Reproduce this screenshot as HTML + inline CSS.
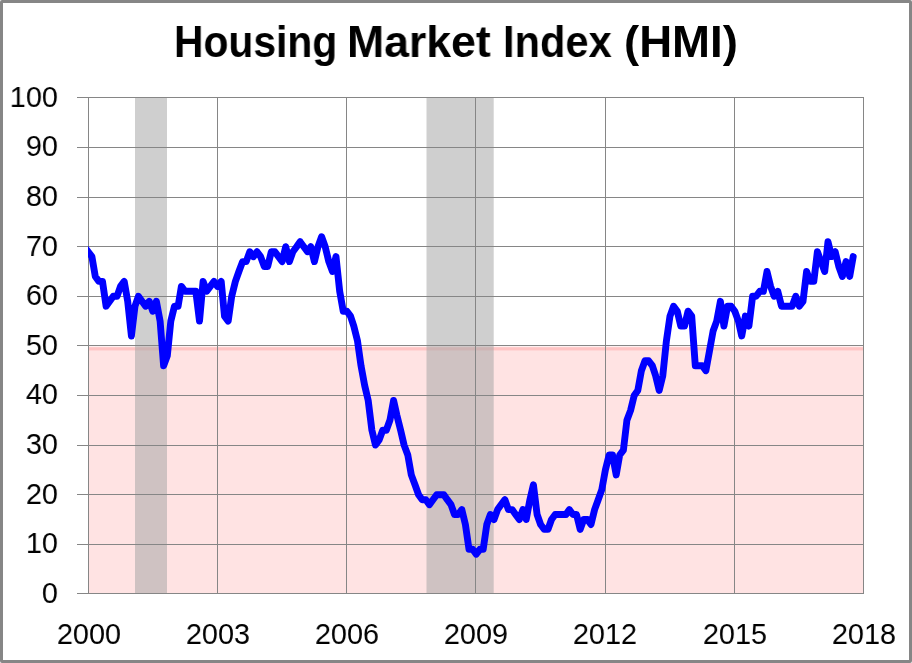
<!DOCTYPE html>
<html><head><meta charset="utf-8"><title>Housing Market Index (HMI)</title>
<style>
html,body{margin:0;padding:0;background:#fff}
body{width:912px;height:663px;position:relative;overflow:hidden;font-family:"Liberation Sans",sans-serif;color:#000}
#frame{position:absolute;left:0;top:0;width:906px;height:657px;border:3px solid #868686;border-radius:2px}
.yl{position:absolute;right:854px;width:80px;will-change:transform;text-align:right;font-size:29px;line-height:30px;height:30px;white-space:nowrap;transform:scaleX(0.995);transform-origin:100% 50%}
.xl{position:absolute;will-change:transform;top:618.9px;width:100px;margin-left:-50px;text-align:center;font-size:29px;line-height:30px;white-space:nowrap;transform:scaleX(0.995)}
.tw{position:absolute;top:19.2px;font-size:45px;font-weight:bold;line-height:46px;will-change:transform;white-space:nowrap;transform-origin:0 0}
</style></head><body>
<div id="frame"></div>
<svg width="912" height="663" viewBox="0 0 912 663" style="position:absolute;left:0;top:0">
<defs><clipPath id="c"><rect x="88" y="97" width="776" height="497"/></clipPath></defs>
<rect x="89" y="346" width="774" height="247" fill="#ffe3e3"/>
<rect x="89" y="346" width="774" height="1" fill="#fff0f0"/>
<rect x="89" y="347" width="774" height="1" fill="#ffcccc"/>
<rect x="89" y="348" width="774" height="2" fill="#ffc4c4"/>
<rect x="89" y="350" width="774" height="1" fill="#ffd6d6"/>
<rect x="135" y="98" width="32" height="495" fill="#a8a8a8" fill-opacity="0.55"/>
<rect x="426.5" y="98" width="67.19999999999999" height="495" fill="#a8a8a8" fill-opacity="0.55"/>
<rect x="77" y="97" width="787" height="1" fill="#868686"/>
<rect x="77" y="147" width="787" height="1" fill="#868686"/>
<rect x="77" y="197" width="787" height="1" fill="#868686"/>
<rect x="77" y="246" width="787" height="1" fill="#868686"/>
<rect x="77" y="296" width="787" height="1" fill="#868686"/>
<rect x="77" y="345" width="787" height="1" fill="#868686"/>
<rect x="77" y="395" width="787" height="1" fill="#868686"/>
<rect x="77" y="445" width="787" height="1" fill="#868686"/>
<rect x="77" y="494" width="787" height="1" fill="#868686"/>
<rect x="77" y="544" width="787" height="1" fill="#868686"/>
<rect x="77" y="593" width="787" height="1" fill="#868686"/>
<rect x="88" y="97" width="1" height="497" fill="#868686"/>
<rect x="217" y="97" width="1" height="497" fill="#868686"/>
<rect x="346" y="97" width="1" height="497" fill="#868686"/>
<rect x="475" y="97" width="1" height="497" fill="#868686"/>
<rect x="605" y="97" width="1" height="497" fill="#868686"/>
<rect x="734" y="97" width="1" height="497" fill="#868686"/>
<rect x="863" y="97" width="1" height="497" fill="#868686"/>
<path d="M84.5,246.7 L88.2,251.7 L91.9,256.6 L95.3,276.5 L98.9,281.4 L102.5,281.4 L106.1,306.2 L109.7,301.3 L113.3,296.3 L117.0,296.3 L120.5,286.4 L124.2,281.4 L127.7,301.3 L131.4,336.0 L135.0,306.2 L138.4,296.3 L142.0,301.3 L145.6,306.2 L149.2,301.3 L152.8,311.2 L156.4,301.3 L160.1,321.1 L163.6,365.7 L167.3,355.8 L170.8,321.1 L174.5,306.2 L178.1,306.2 L181.4,286.4 L185.1,291.3 L188.6,291.3 L192.3,291.3 L195.8,291.3 L199.5,321.1 L203.1,281.4 L206.7,291.3 L210.3,286.4 L213.9,281.4 L217.5,286.4 L221.2,281.4 L224.5,316.1 L228.2,321.1 L231.7,296.3 L235.4,281.4 L238.9,271.5 L242.6,261.6 L246.2,261.6 L249.8,251.7 L253.4,256.6 L257.0,251.7 L260.6,256.6 L264.3,266.5 L267.7,266.5 L271.3,251.7 L274.9,251.7 L278.5,256.6 L282.1,261.6 L285.7,246.7 L289.4,261.6 L292.9,251.7 L296.6,246.7 L300.1,241.7 L303.8,246.7 L307.5,251.7 L310.8,246.7 L314.4,261.6 L318.0,246.7 L321.6,236.8 L325.2,246.7 L328.8,261.6 L332.5,271.5 L336.0,256.6 L339.7,291.3 L343.2,311.2 L346.9,311.2 L350.5,316.1 L353.8,326.1 L357.5,340.9 L361.0,365.7 L364.7,385.6 L368.2,400.5 L371.9,430.2 L375.5,445.1 L379.1,440.1 L382.7,430.2 L386.3,430.2 L389.9,420.3 L393.6,400.5 L396.9,415.3 L400.6,430.2 L404.1,445.1 L407.8,455.0 L411.3,474.9 L415.0,484.8 L418.6,494.7 L422.2,499.7 L425.8,499.7 L429.4,504.6 L433.0,499.7 L436.7,494.7 L440.1,494.7 L443.8,494.7 L447.3,499.7 L451.0,504.6 L454.5,514.5 L458.2,514.5 L461.8,509.6 L465.4,524.5 L469.0,549.3 L472.6,549.3 L476.2,554.2 L479.9,549.3 L483.2,549.3 L486.8,524.5 L490.4,514.5 L494.0,519.5 L497.6,509.6 L501.2,504.6 L504.9,499.7 L508.4,509.6 L512.1,509.6 L515.6,514.5 L519.3,519.5 L522.9,509.6 L526.2,519.5 L529.9,499.7 L533.4,484.8 L537.1,514.5 L540.6,524.5 L544.3,529.4 L548.0,529.4 L551.5,519.5 L555.2,514.5 L558.7,514.5 L562.4,514.5 L566.0,514.5 L569.3,509.6 L573.0,514.5 L576.5,514.5 L580.2,529.4 L583.7,519.5 L587.4,519.5 L591.0,524.5 L594.6,509.6 L598.2,499.7 L601.8,489.7 L605.4,469.9 L609.1,455.0 L612.5,455.0 L616.2,474.9 L619.7,455.0 L623.4,450.1 L626.9,420.3 L630.6,410.4 L634.2,395.5 L637.8,390.5 L641.4,370.7 L645.0,360.8 L648.6,360.8 L652.3,365.7 L655.6,375.7 L659.2,390.5 L662.8,375.7 L666.4,340.9 L670.0,316.1 L673.6,306.2 L677.3,311.2 L680.8,326.1 L684.5,326.1 L688.0,311.2 L691.7,316.1 L695.3,365.7 L698.7,365.7 L702.3,365.7 L705.9,370.7 L709.5,350.9 L713.1,331.0 L716.7,321.1 L720.4,301.3 L723.9,326.1 L727.6,306.2 L731.1,306.2 L734.8,311.2 L738.4,321.1 L741.7,336.0 L745.4,316.1 L748.9,326.1 L752.6,296.3 L756.1,296.3 L759.8,291.3 L763.4,291.3 L767.0,271.5 L770.6,286.4 L774.2,296.3 L777.8,291.3 L781.5,306.2 L784.9,306.2 L788.6,306.2 L792.1,306.2 L795.8,296.3 L799.3,306.2 L803.0,301.3 L806.6,271.5 L810.2,281.4 L813.8,281.4 L817.4,251.7 L821.0,261.6 L824.7,271.5 L828.0,241.7 L831.6,256.6 L835.2,251.7 L838.8,266.5 L842.4,276.5 L846.0,261.6 L849.7,276.5 L853.2,256.6" fill="none" stroke="#0000ff" stroke-width="6.9" stroke-linejoin="round" stroke-linecap="round" clip-path="url(#c)"/>
</svg>
<div class="yl" style="top:81.7px">100</div>
<div class="yl" style="top:131.3px">90</div>
<div class="yl" style="top:180.9px">80</div>
<div class="yl" style="top:230.5px">70</div>
<div class="yl" style="top:280.1px">60</div>
<div class="yl" style="top:329.7px">50</div>
<div class="yl" style="top:379.3px">40</div>
<div class="yl" style="top:428.9px">30</div>
<div class="yl" style="top:478.5px">20</div>
<div class="yl" style="top:528.1px">10</div>
<div class="yl" style="top:577.7px">0</div>
<div class="xl" style="left:88.7px">2000</div>
<div class="xl" style="left:217.9px">2003</div>
<div class="xl" style="left:347.0px">2006</div>
<div class="xl" style="left:476.2px">2009</div>
<div class="xl" style="left:605.4px">2012</div>
<div class="xl" style="left:734.5px">2015</div>
<div class="xl" style="left:863.7px">2018</div>
<div class="tw" style="left:174px;transform:scaleX(0.907)">Housing</div>
<div class="tw" style="left:346.7px;transform:scaleX(0.991)">Market</div>
<div class="tw" style="left:502.9px;transform:scaleX(0.925)">Index</div>
<div class="tw" style="left:623.7px;transform:scaleX(1.013)">(HMI)</div>
</body></html>
